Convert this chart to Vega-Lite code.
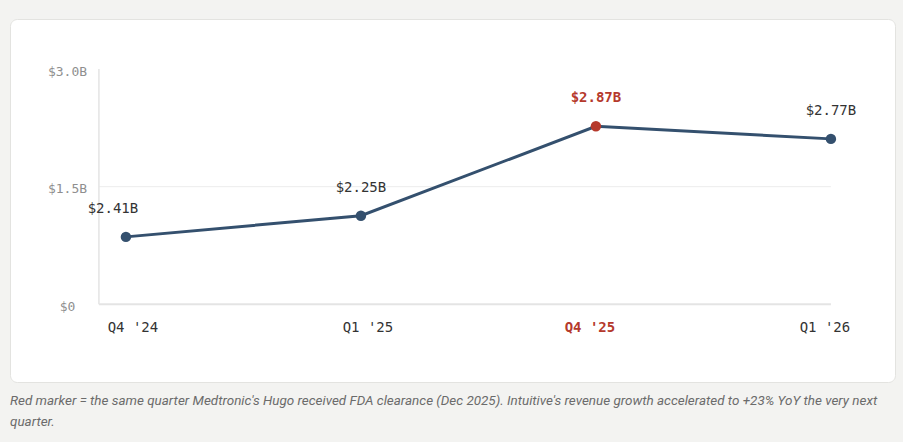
{
  "$schema": "https://vega.github.io/schema/vega-lite/v6.json",
  "width": 885,
  "height": 363,
  "autosize": {"type": "none"},
  "padding": {"left": 10, "top": 19, "right": 8, "bottom": 60},
  "background": "#f3f3f1",
  "config": {
    "view": {"fill": "white", "stroke": "#e3e3e0", "strokeWidth": 1, "cornerRadius": 7}
  },
  "title": {
    "text": [
      "Red marker = the same quarter Medtronic's Hugo received FDA clearance (Dec 2025). Intuitive's revenue growth accelerated to +23% YoY the very next",
      "quarter."
    ],
    "orient": "bottom",
    "anchor": "start",
    "offset": 12,
    "font": "Roboto",
    "fontSize": 13.45,
    "fontStyle": "italic",
    "fontWeight": "normal",
    "color": "#6b6b6b",
    "lineHeight": 21
  },
  "datasets": {
    "revenue": [
      {"quarter": "Q4 '24", "value": 0.86, "label": "$2.41B", "highlight": false},
      {"quarter": "Q1 '25", "value": 1.13, "label": "$2.25B", "highlight": false},
      {"quarter": "Q4 '25", "value": 2.27, "label": "$2.87B", "highlight": true},
      {"quarter": "Q1 '26", "value": 2.11, "label": "$2.77B", "highlight": false}
    ],
    "gridlines": [
      {"start": "Q4 '24", "end": "Q1 '26", "tick": 1.5}
    ],
    "baseline": [
      {"start": "Q4 '24", "end": "Q1 '26", "tick": 0}
    ],
    "yline": [
      {"start": "Q4 '24", "lo": 0, "hi": 3}
    ]
  },
  "layer": [
    {
      "data": {"name": "gridlines"},
      "mark": {"type": "rule", "color": "#ececec", "strokeWidth": 1, "xOffset": -27},
      "encoding": {
        "x": {"field": "start", "type": "nominal", "axis": {"title": null}},
        "x2": {"field": "end"},
        "y": {"field": "tick", "type": "quantitative", "axis": {"title": null}}
      }
    },
    {
      "data": {"name": "baseline"},
      "mark": {"type": "rule", "color": "#e4e4e4", "strokeWidth": 2, "xOffset": -27},
      "encoding": {
        "x": {"field": "start", "type": "nominal", "axis": {"title": null}},
        "x2": {"field": "end"},
        "y": {"field": "tick", "type": "quantitative", "axis": {"title": null}}
      }
    },
    {
      "data": {"name": "yline"},
      "mark": {"type": "rule", "color": "#e4e4e4", "strokeWidth": 1.5, "xOffset": -27},
      "encoding": {
        "x": {"field": "start", "type": "nominal", "axis": {"title": null}},
        "y": {"field": "lo", "type": "quantitative", "axis": {"title": null}},
        "y2": {"field": "hi"}
      }
    },
    {
      "data": {"name": "revenue"},
      "mark": {"type": "line", "color": "#34506e", "strokeWidth": 3},
      "encoding": {
        "x": {
          "field": "quarter",
          "type": "nominal",
          "scale": {
            "type": "point",
            "domain": ["Q4 '24", "Q1 '25", "Q4 '25", "Q1 '26"],
            "padding": 0.383,
            "align": 0.644
          },
          "axis": {
            "title": null,
            "orient": "bottom",
            "offset": -77.7,
            "domain": false,
            "ticks": false,
            "tickSize": 0,
            "grid": false,
            "labelAngle": 0,
            "labelAlign": "center",
            "labelBaseline": "middle",
            "labelPadding": 23,
            "labelFont": "DejaVu Sans Mono",
            "labelFontSize": 14,
            "labelOffset": {"condition": {"test": "datum.index < 0.5", "value": 6.5}, "value": -6.5},
            "labelColor": {"condition": {"test": "datum.value === \"Q4 '25\"", "value": "#b5392c"}, "value": "#333333"},
            "labelFontWeight": {"condition": {"test": "datum.value === \"Q4 '25\"", "value": "bold"}, "value": "normal"}
          }
        },
        "y": {
          "field": "value",
          "type": "quantitative",
          "scale": {"domain": [-0.991, 3.639], "nice": false, "zero": false},
          "axis": {
            "title": null,
            "values": [0, 1.5, 3],
            "labelExpr": "datum.value == 0 ? '$0' : '$' + format(datum.value, '.1f') + 'B'",
            "offset": -57,
            "domain": false,
            "ticks": false,
            "tickSize": 0,
            "grid": false,
            "labelAlign": "center",
            "labelBaseline": "middle",
            "labelPadding": 0,
            "labelOffset": 2,
            "labelFont": "DejaVu Sans Mono",
            "labelFontSize": 13,
            "labelColor": "#8f8f8f"
          }
        }
      }
    },
    {
      "data": {"name": "revenue"},
      "mark": {"type": "circle", "size": 110, "opacity": 1},
      "encoding": {
        "x": {"field": "quarter", "type": "nominal", "axis": {"title": null}},
        "y": {"field": "value", "type": "quantitative", "axis": {"title": null}},
        "color": {"condition": {"test": "datum.highlight", "value": "#b5392c"}, "value": "#34506e"}
      }
    },
    {
      "data": {"name": "revenue"},
      "transform": [{"filter": "!datum.highlight && datum.quarter !== \"Q4 '24\""}],
      "mark": {"type": "text", "baseline": "middle", "dy": -28, "font": "DejaVu Sans Mono", "fontSize": 14, "color": "#333333"},
      "encoding": {
        "x": {"field": "quarter", "type": "nominal", "axis": {"title": null}},
        "y": {"field": "value", "type": "quantitative", "axis": {"title": null}},
        "text": {"field": "label"}
      }
    },
    {
      "data": {"name": "revenue"},
      "transform": [{"filter": "datum.quarter === \"Q4 '24\""}],
      "mark": {"type": "text", "baseline": "middle", "dy": -28, "dx": -13, "font": "DejaVu Sans Mono", "fontSize": 14, "color": "#333333"},
      "encoding": {
        "x": {"field": "quarter", "type": "nominal", "axis": {"title": null}},
        "y": {"field": "value", "type": "quantitative", "axis": {"title": null}},
        "text": {"field": "label"}
      }
    },
    {
      "data": {"name": "revenue"},
      "transform": [{"filter": "datum.highlight"}],
      "mark": {"type": "text", "baseline": "middle", "dy": -28, "font": "DejaVu Sans Mono", "fontSize": 14, "fontWeight": "bold", "color": "#b5392c"},
      "encoding": {
        "x": {"field": "quarter", "type": "nominal", "axis": {"title": null}},
        "y": {"field": "value", "type": "quantitative", "axis": {"title": null}},
        "text": {"field": "label"}
      }
    }
  ]
}
